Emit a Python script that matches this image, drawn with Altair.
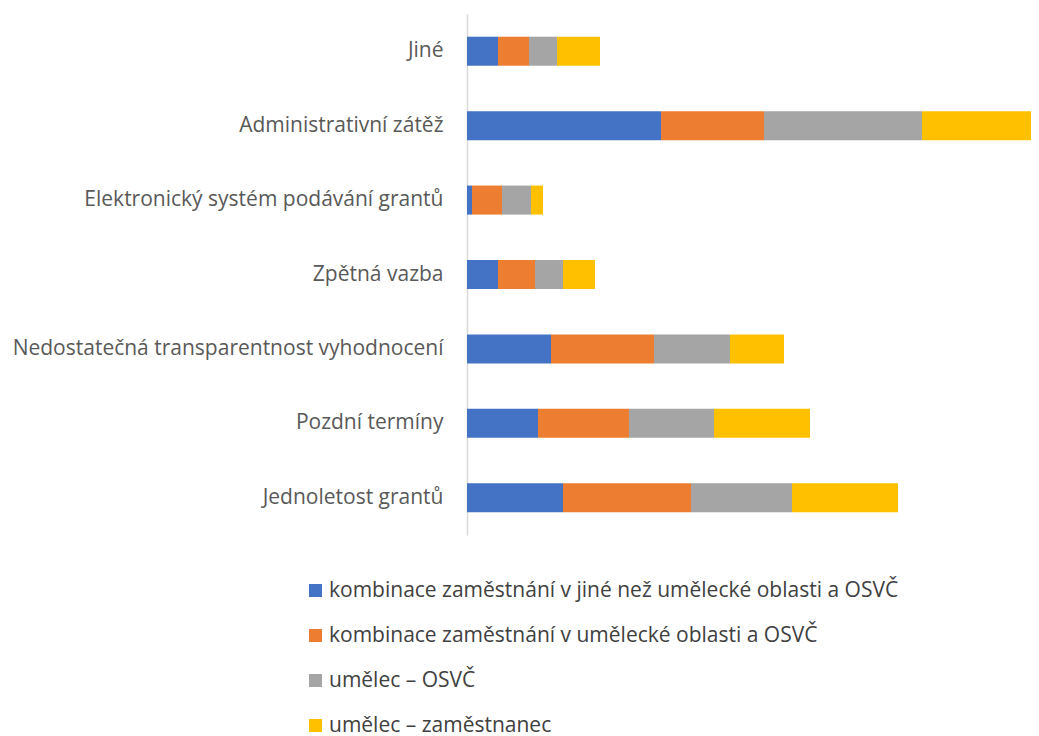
import altair as alt
import pandas as pd

categories = [
    "Jiné",
    "Administrativní zátěž",
    "Elektronický systém podávání grantů",
    "Zpětná vazba",
    "Nedostatečná transparentnost vyhodnocení",
    "Pozdní termíny",
    "Jednoletost grantů",
]
series = [
    "kombinace zaměstnání v jiné než umělecké oblasti a OSVČ",
    "kombinace zaměstnání v umělecké oblasti a OSVČ",
    "umělec – OSVČ",
    "umělec – zaměstnanec",
]
colors = ["#4472C4", "#ED7D31", "#A5A5A5", "#FFC000"]

v_blue = [31, 194, 5, 31, 84, 71, 96]
v_orange = [31, 103, 30, 37, 103, 91, 128]
v_gray = [28, 158, 29, 28, 76, 85, 101]
v_yellow = [43, 116, 12, 32, 54, 96, 106]

rows = []
for si, vals in enumerate([v_blue, v_orange, v_gray, v_yellow]):
    for c, v in zip(categories, vals):
        rows.append({"kategorie": c, "skupina": series[si], "poradi": si, "hodnota": v})
df = pd.DataFrame(rows)

FONT = "Open Sans"

chart = alt.Chart(df).mark_bar(clip=True).encode(
    y=alt.Y("kategorie:N", sort=categories, title=None,
            scale=alt.Scale(paddingInner=0.61, paddingOuter=0.305),
            axis=alt.Axis(domainColor="#D9D9D9", domainWidth=1.5, ticks=False,
                          labelPadding=24, labelFontSize=21, labelColor="#595959",
                          labelFont=FONT, labelLimit=600)),
    x=alt.X("hodnota:Q", stack="zero", axis=None,
            scale=alt.Scale(domain=[0, 564], nice=False, zero=True)),
    color=alt.Color("skupina:N", sort=series,
                    scale=alt.Scale(domain=series, range=colors),
                    legend=alt.Legend(orient="none", legendX=-162, legendY=566,
                                      direction="vertical", title=None,
                                      symbolType="square", symbolSize=169,
                                      symbolStrokeWidth=0,
                                      labelFontSize=21, labelColor="#404040",
                                      labelFont=FONT, labelLimit=800,
                                      rowPadding=23, labelOffset=3)),
    order=alt.Order("poradi:Q"),
).properties(
    width=564, height=521,
    autosize=alt.AutoSizeParams(type="none"),
    padding={"left": 459, "top": 6, "right": 0, "bottom": 212},
).configure_view(stroke=None)

chart.save("out.html", embed_options={"renderer": "svg", "actions": False})
